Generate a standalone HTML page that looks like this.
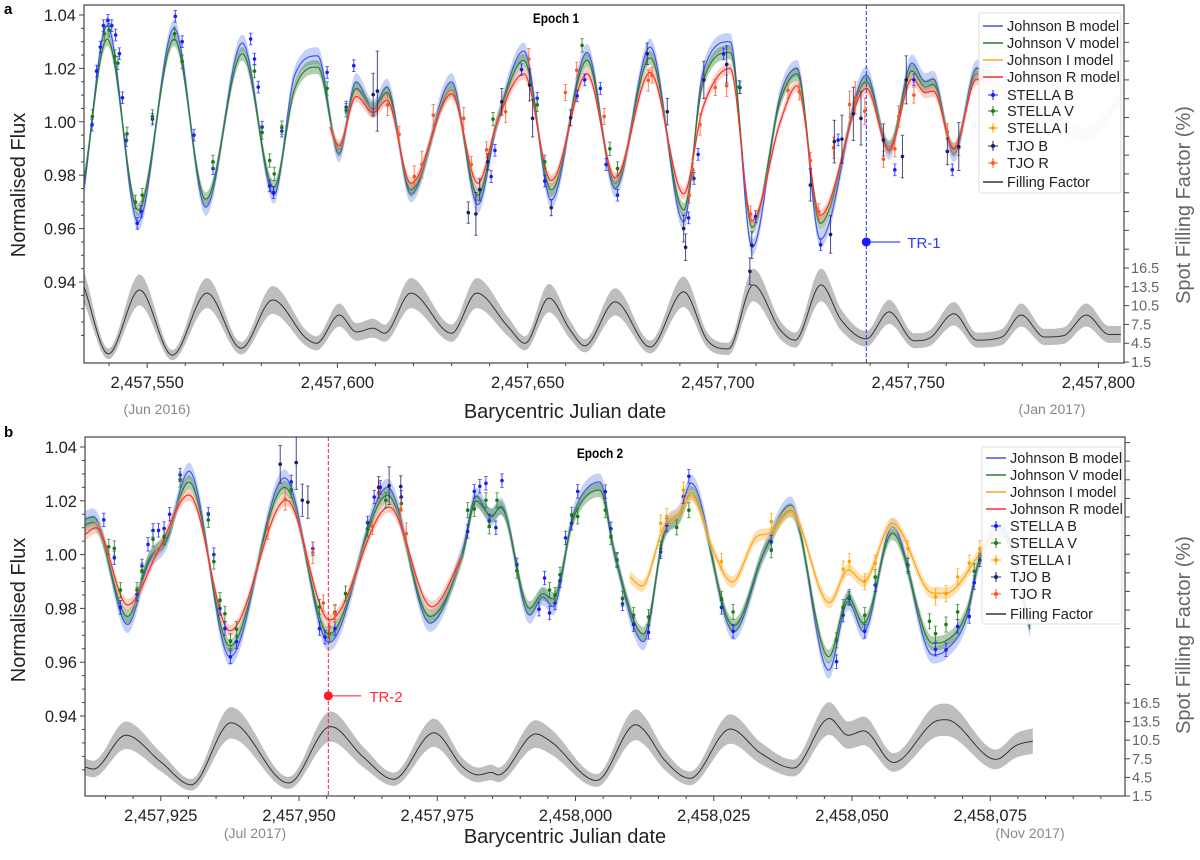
<!DOCTYPE html>
<html><head><meta charset="utf-8"><title>Epoch light curves</title>
<style>
html,body{margin:0;padding:0;background:#fff;}
svg{display:block;font-family:"Liberation Sans",sans-serif;}
</style></head>
<body>
<svg id="fig" width="1200" height="860" viewBox="0 0 1200 860" xmlns="http://www.w3.org/2000/svg">
<defs>
<clipPath id="clipA"><rect x="84" y="5" width="1040" height="358"/></clipPath>
<clipPath id="clipB"><rect x="85" y="437" width="1040" height="359"/></clipPath>
</defs>
<text x="4" y="14" font-size="15" font-weight="bold">a</text>
<text x="4" y="437" font-size="15" font-weight="bold">b</text>
<g id="panelA"></g>
<g id="panelB"></g>
<text x="556" y="23" font-size="14" font-weight="bold" text-anchor="middle" transform="translate(556 23) scale(0.85 1) translate(-556 -23)">Epoch 1</text>
<text x="600" y="458" font-size="14" font-weight="bold" text-anchor="middle" transform="translate(600 458) scale(0.85 1) translate(-600 -458)">Epoch 2</text>
<text transform="translate(25 185) rotate(-90)" font-size="20" text-anchor="middle" fill="#222">Normalised Flux</text>
<text transform="translate(25 610) rotate(-90)" font-size="20" text-anchor="middle" fill="#222">Normalised Flux</text>
<text transform="translate(1190 205) rotate(-90)" font-size="20" text-anchor="middle" fill="#666">Spot  Filling Factor  (%)</text>
<text transform="translate(1190 635) rotate(-90)" font-size="20" text-anchor="middle" fill="#666">Spot  Filling Factor  (%)</text>
<text x="565" y="418" font-size="20" text-anchor="middle" fill="#222">Barycentric  Julian date</text>
<text x="565" y="843" font-size="20" text-anchor="middle" fill="#222">Barycentric  Julian date</text>
<text x="157" y="414" font-size="14" text-anchor="middle" fill="#888">(Jun 2016)</text>
<text x="1052" y="414" font-size="14" text-anchor="middle" fill="#888">(Jan 2017)</text>
<text x="255" y="838" font-size="14" text-anchor="middle" fill="#888">(Jul 2017)</text>
<text x="1030" y="838" font-size="14" text-anchor="middle" fill="#888">(Nov 2017)</text>
</svg>
<script>
// ---------- Epoch 1 models ----------
const modelDaysA = [2457533.4,2457539.5,2457547.6,2457557.1,2457565.4,2457575,2457583.3,2457588.8,2457594.8,2457600.4,2457604.9,2457609.4,2457613,2457619.3,2457630,2457636.9,2457642,2457649,2457656.2,2457665.6,2457673,2457682.2,2457691,2457696,2457703.2,2457709,2457716.4,2457720.8,2457726.9,2457739,2457745,2457751,2457754.5,2457756.6,2457762,2457768,2457775,2457786,2457796.8,2457806];
const modelBA = [0.975,1.036,0.9625,1.035,0.968,1.0295,0.9725,1.0175,1.0247,0.988,1.015,1.005,1.013,0.973,1.015,0.969,1.0,1.0265,0.9707,1.026,0.975,1.028,0.9625,1.018,1.030,0.953,1.01,1.020,0.956,1.0175,0.989,1.022,1.015,1.016,0.988,1.020,1.012,1.002,0.994,1.01];
const modelVA = [0.978,1.031,0.967,1.031,0.971,1.0255,0.9755,1.0125,1.0205,0.9895,1.0125,1.0045,1.011,0.9745,1.012,0.9725,1.0,1.023,0.9745,1.023,0.977,1.024,0.967,1.0145,1.026,0.9605,1.008,1.018,0.962,1.015,0.9905,1.019,1.013,1.014,0.9895,1.018,1.012,1.002,0.995,1.009];
const modelDaysRA = [2457598,2457600.4,2457604.9,2457609.4,2457613,2457619.3,2457630,2457636.9,2457642,2457649,2457656.2,2457665.6,2457673,2457682.2,2457691,2457696,2457703.2,2457709,2457716.4,2457720.8,2457726.9,2457739,2457745,2457751,2457754.5,2457756.6,2457762,2457768,2457775,2457786,2457796.8,2457806];
const modelRA = [0.998,0.991,1.0095,1.0035,1.008,0.977,1.0105,0.977,1.0,1.018,0.978,1.018,0.979,1.0185,0.973,1.005,1.020,0.963,1.0,1.0135,0.965,1.0125,0.9895,1.016,1.011,1.0115,0.990,1.016,1.012,1.003,0.996,1.008];
const ffDaysA = [2457533.4,2457539.8,2457548,2457556.6,2457565.7,2457574.7,2457583,2457591.8,2457594.5,2457600.5,2457605,2457609.4,2457612.4,2457619.3,2457630,2457636.6,2457644.9,2457649.3,2457655.6,2457661.2,2457665,2457673,2457682.2,2457691,2457697.2,2457702.7,2457709.3,2457716.4,2457720.3,2457727.1,2457732.4,2457739,2457745,2457751.6,2457755.6,2457762,2457768.1,2457774.6,2457779.7,2457785.8,2457790.8,2457796.8,2457802.8,2457806];
const ffA = [13.5,2.8,13,2.6,12.5,3.7,11.4,5.3,4.5,9,6.3,6.9,6.1,12.5,6.1,12.5,7.1,4.5,11.7,6.6,4.1,11.1,3.9,12.7,5,3.6,13.8,6.6,5,13.8,8.2,5.2,9.5,4.9,5.3,9.2,5,5.5,9,5.5,5.7,9,5.9,5.9];
// ---------- Epoch 1 observations ----------
const stellaBDaysA = [2457535.5,2457536.7,2457537.7,2457538.5,2457539.7,2457540.7,2457541.7,2457542.7,2457543.5,2457544.5,2457547.4,2457548.4,2457551.4,2457557.4,2457559.2,2457562.3,2457567.3,2457577.2,2457578.2,2457579.2,2457580.2,2457582.2,2457583.2,2457585.4,2457597.3,2457602.3,2457604.3,2457640.4,2457641.4,2457648.4,2457652.5,2457654.5,2457663,2457665,2457669.1,2457670.6,2457673.6,2457701.5,2457705.8,2457692.3,2457709.9,2457727,2457731.6,2457746.5,2457751.5,2457761.6,2457693.7,2457694.8];
const stellaBFluxA = [0.9988,1.019,1.028,1.036,1.038,1.036,1.0325,1.0255,1.009,0.993,0.962,0.9665,1.001,1.0395,1.03,0.995,0.9825,1.031,1.0235,1.013,0.998,0.976,0.9735,0.9965,1.0185,1.0055,1.021,0.9795,0.9893,1.0195,1.0088,0.9778,1.0097,1.0157,1.0125,0.984,0.9725,1.0254,1.0128,0.964,0.9645,0.954,0.9932,0.982,1.0157,0.982,0.9788,0.9878];
const stellaVDaysA = [2457535.6,2457538.7,2457540,2457541.5,2457542.3,2457544.7,2457546.9,2457548.7,2457551.4,2457557.2,2457559.2,2457567.3,2457578.2,2457580.2,2457582.2,2457583.4,2457585.4,2457597.3,2457602.3,2457640.9,2457652.5,2457654.5,2457664.3,2457671.6,2457673.6,2457693.4,2457705.6];
const stellaVFluxA = [1.002,1.033,1.0343,1.0245,1.022,0.9955,0.970,0.9725,1.002,1.033,1.0225,0.985,1.019,0.996,0.9855,0.9805,0.9978,1.0125,1.0043,1.001,1.0063,0.985,1.0286,0.9899,0.9825,0.982,1.013];
const tjoBDaysA = [2457609.4,2457610.5,2457634.4,2457636.4,2457637.4,2457639.5,2457643.2,2457650.5,2457651.3,2457656.2,2457661.3,2457681.4,2457696.3,2457691,2457691.5,2457708.4,2457708.9,2457724.3,2457729.6,2457730.6,2457737.6,2457749.5,2457743.5,2457748.5,2457760.3,2457763.3,2457686.7,2457702.3,2457732.6,2457735.6];
const tjoBFluxA = [1.0102,1.0115,0.966,0.9655,0.9746,0.985,1.0075,1.0138,1.0013,0.9678,1.0015,1.0255,1.0157,0.960,0.953,0.944,0.9538,0.9763,0.9578,0.9926,1.0013,1.0157,0.9932,0.987,0.9889,0.9907,1.0038,1.0215,0.9935,1.003];
const tjoBErrA = [0.008,0.015,0.004,0.008,0.004,0.003,0.005,0.006,0.007,0.003,0.003,0.004,0.007,0.005,0.005,0.005,0.005,0.006,0.007,0.008,0.01,0.009,0.006,0.008,0.005,0.009,0.005,0.007,0.009,0.01];
const tjoRDaysA = [2457613.2,2457616.2,2457620.2,2457622.2,2457625.2,2457633.2,2457635.2,2457639.2,2457644.2,2457650.3,2457659.9,2457662.9,2457670.1,2457681.7,2457682.7,2457693.3,2457692.5,2457695.3,2457699.3,2457702.3,2457708.6,2457718.4,2457721.4,2457724.3,2457726.5,2457730.4,2457734.6,2457736.1,2457738.6,2457743.5,2457746.5,2457747.5,2457751.5,2457760.3,2457763.3];
const tjoRFluxA = [1.0063,0.9953,0.9795,0.984,1.0025,1.0013,0.984,0.9895,1.0038,1.0235,1.011,1.0193,1.002,1.0155,1.0175,0.982,0.9725,0.999,1.0128,1.0135,0.9655,1.0118,1.0112,0.9855,0.9663,0.9903,1.0065,1.009,1.004,0.986,0.9899,1.002,1.010,0.9963,0.9903];
const tjoRErrA = [0.004,0.003,0.004,0.005,0.004,0.004,0.003,0.003,0.004,0.004,0.003,0.003,0.003,0.004,0.003,0.004,0.003,0.004,0.003,0.004,0.003,0.003,0.003,0.003,0.003,0.004,0.005,0.006,0.005,0.003,0.003,0.004,0.003,0.003,0.003];
// ---------- Epoch 2 models ----------
const modelDaysB = [2457911.2,2457912.8,2457919,2457922.8,2457926,2457930.1,2457937.5,2457947.4,2457955.4,2457966,2457973.7,2457979.6,2457982,2457984.8,2457986.5,2457991.7,2457994.1,2457995.9,2457999.7,2458004.4,2458007.1,2458012.3,2458016.1,2458018.8,2458020.9,2458028.6,2458034.1,2458038.9,2458045.8,2458049.3,2458052.1,2458057.3,2458064.6,2458067,2458070.8,2458073,2458077,2458082.4];
const modelBB = [1.013,1.014,0.974,0.997,1.005,1.031,0.962,1.0285,0.9673,1.025,0.9745,1.0017,1.0217,1.014,1.018,0.9775,0.9843,0.9806,1.0154,1.027,1.0,0.9676,1.009,1.0154,1.0266,0.9713,1.001,1.0184,0.957,0.9825,0.9713,1.0104,0.9627,0.9645,0.9769,0.998,1.01,0.9708];
const modelVB = [1.011,1.012,0.977,0.998,1.006,1.027,0.966,1.025,0.9705,1.022,0.977,1.0,1.02,1.0145,1.0175,0.98,0.9855,0.9835,1.014,1.024,1.0,0.9705,1.008,1.014,1.023,0.9735,1.001,1.0165,0.962,0.984,0.9745,1.008,0.967,0.968,0.979,0.998,1.009,0.972];
const modelDaysRB = [2457911.2,2457913.3,2457919,2457924.6,2457930.1,2457937.5,2457947.7,2457955.5,2457966.3,2457974,2457979.6];
const modelRB = [1.0073,1.01,0.9813,1.0017,1.0222,0.9717,1.0203,0.9757,1.0177,0.9806,0.9995];
const modelDaysIB = [2458009.8,2458012,2458016,2458018.8,2458020.9,2458025,2458028.3,2458032.8,2458035.2,2458038.9,2458045.9,2458049.3,2458052.1,2458057.3,2458064.6,2458067,2458073,2458077];
const modelIB = [0.9918,0.9883,1.0104,1.0154,1.022,1.001,0.9898,1.0067,1.008,1.016,0.9821,0.9943,0.99,1.0117,0.9857,0.9857,1.0,1.012];
const ffDaysB = [2457911.2,2457912.8,2457918.7,2457925,2457930.5,2457937.7,2457948.1,2457955.7,2457961.6,2457967.1,2457974.4,2457979.6,2457982.4,2457984.8,2457986,2457992.8,2457995.5,2458003.8,2458010.9,2458012.6,2458016.1,2458020.7,2458028,2458033.5,2458039.4,2458045.9,2458049.3,2458052.1,2458057.5,2458065,2458067,2458076,2458079.8,2458082.9];
const ffB = [6.2,5.85,11.3,7.0,3.3,13.3,3.6,12.7,7.8,4.2,11.7,6.2,4.9,5.3,4.9,11.5,10.3,4.0,13,11.9,7.3,4.35,12.3,8.4,6,14,11.3,12,6.9,13.5,13.8,7.4,9.7,10.4];
// ---------- Epoch 2 observations ----------
const stellaBDaysB = [2457914.7,2457916.6,2457917.7,2457920.7,2457921.6,2457922.7,2457923.6,2457924.6,2457925.6,2457926.6,2457928.5,2457933.6,2457934.6,2457935.7,2457936.6,2457937.6,2457938.7,2457948.6,2457952.5,2457953.7,2457954.7,2457956.5,2457962.4,2457963.6,2457964.7,2457968.5,2457980.5,2457981.7,2457982.7,2457983.8,2457984.4,2457985.6,2457986.7,2457989.4,2457993.4,2457994.4,2457995.3,2457996.3,2457997.2,2457998.2,2457999.3,2458000.4,2458005.4,2458006.4,2458007.5,2458008.5,2458010.5,2458013.2,2458015.4,2458016.5,2458019.5,2458020.5,2458026.4,2458028.5,2458035.4,2458047.2,2458048.4,2458049.5,2458052.3,2458054.2,2458060.1,2458065.1,2458067,2458069.1,2458071.2,2458072.1,2458073.1];
const stellaBFluxB = [1.0129,0.9988,0.9804,0.9852,0.9958,1.0038,1.009,1.009,1.0097,1.015,1.0296,1.015,1.0,0.980,0.9725,0.962,0.9676,1.027,1.0022,0.9725,0.9693,0.9725,1.0118,1.0214,1.025,1.0214,1.0086,1.0235,1.0254,1.0265,1.0125,1.01,1.0275,0.9962,0.9797,0.9913,0.9783,0.982,0.9903,1.0062,1.0117,1.0235,1.0234,1.0096,0.998,0.9817,0.974,0.9711,1.001,1.011,1.0216,1.0291,0.9804,0.9715,1.0047,0.9602,0.9775,0.9837,0.9715,0.9887,0.9962,0.9648,0.9646,0.9733,0.977,0.9896,0.998];
const stellaVDaysB = [2457915.6,2457916.6,2457917.7,2457920.7,2457921.6,2457923.6,2457925.6,2457928.5,2457933.6,2457934.6,2457935.7,2457936.6,2457937.6,2457938.7,2457948.6,2457953.7,2457955.5,2457956.5,2457958.4,2457962.4,2457965.7,2457968.5,2457980.5,2457981.7,2457983.8,2457984.4,2457985.8,2457989.4,2457995.3,2457996.3,2457997.2,2457999.3,2458000.4,2458005.4,2458006.4,2458007.5,2458008.5,2458010.5,2458013.2,2458015.4,2458018.3,2458020.5,2458026.4,2458028.5,2458035.4,2458047.2,2458048.4,2458049.5,2458052.3,2458054.2,2458060.1,2458064,2458065.1,2458067,2458069.1,2458072.1,2458073.1];
const stellaVFluxB = [1.0029,1.0023,0.9868,0.9868,0.994,1.0057,1.0065,1.0279,1.0129,0.9974,0.9831,0.978,0.9678,0.9723,1.024,0.9805,0.9706,0.9786,0.9855,1.0096,1.0202,1.019,1.0165,1.017,1.0202,1.0105,1.0202,0.994,0.9868,0.985,0.9925,1.0148,1.0142,1.0165,1.0065,0.998,0.9836,0.9775,0.9768,1.0022,1.0101,1.0165,0.9836,0.9787,1.0016,0.9681,0.9805,0.9843,0.9775,0.9917,0.9958,0.9752,0.9706,0.974,0.9787,0.9938,0.9994];
const stellaIDaysB = [2458015.4,2458016.5,2458019.5,2458026.4,2458035.4,2458048.4,2458049.5,2458052.3,2458054.2,2458060.1,2458065.1,2458067,2458069.1,2458071.2,2458073.1];
const stellaIFluxB = [1.0117,1.0142,1.024,0.9974,1.0123,0.9946,0.9974,0.99,0.9968,1.0022,0.9843,0.9855,0.9917,0.9968,1.0022];
const tjoBDaysB = [2457946.6,2457949.5,2457950.6,2457951.6,2457964.4,2457966.3,2457968.4];
const tjoBFluxB = [1.0336,1.0342,1.0202,1.0195,1.025,1.0256,1.0253];
const tjoBErrB = [0.007,0.01,0.006,0.006,0.004,0.007,0.004];
const tjoRDaysB = [2457944.4,2457947.5,2457952.5,2457954.4,2457955.5,2457956.5,2457963.3,2457964.4,2457968.4,2457969.4];
const tjoRFluxB = [1.0097,1.0205,1.0007,0.982,0.973,0.978,1.0105,1.023,1.0168,1.0078];
const tjoRErrB = [0.004,0.004,0.004,0.003,0.003,0.003,0.003,0.004,0.004,0.004];
// ---------- tick labels ----------
const xTicksA = [2457550,2457600,2457650,2457700,2457750,2457800];
const xTicksB = [2457925,2457950,2457975,2458000,2458025,2458050,2458075];
const fluxTicks = [1.04,1.02,1.00,0.98,0.96,0.94];
const ffTicks = [16.5,13.5,10.5,7.5,4.5,1.5];
const transitA = [2457739, 0.955];
const transitB = [2457955.3, 0.9475];

// ---------- axis functions ----------
const xa = d => 84 + (d - 2457533.4) * 3.805;
const ya = v => 15 + (1.04 - v) * 2670;
const fa = f => 268 + (16.5 - f) * 6.27;
const xb = d => 85 + (d - 2457911.3) * 5.53;
const yb = v => 447 + (1.04 - v) * 2690;
const fb = f => 703 + (16.5 - f) * 6.2;

const NS = 'http://www.w3.org/2000/svg';
function mk(tag, attrs, parent) {
  const e = document.createElementNS(NS, tag);
  for (const k in attrs) e.setAttribute(k, attrs[k]);
  parent.appendChild(e);
  return e;
}
function mono(xs, ys) {
  const n = xs.length, d = [], m = new Array(n);
  for (let i = 0; i < n - 1; i++) d.push((ys[i+1]-ys[i])/(xs[i+1]-xs[i]));
  m[0] = d[0]; m[n-1] = d[n-2];
  for (let i = 1; i < n - 1; i++) m[i] = (d[i-1]*d[i] <= 0) ? 0 : (d[i-1]+d[i])/2;
  for (let i = 0; i < n - 1; i++) {
    if (d[i] === 0) { m[i] = 0; m[i+1] = 0; continue; }
    const a = m[i]/d[i], b = m[i+1]/d[i], s = a*a + b*b;
    if (s > 9) { const t = 3/Math.sqrt(s); m[i] = t*a*d[i]; m[i+1] = t*b*d[i]; }
  }
  return x => {
    let i = 0;
    while (i < n - 2 && x > xs[i+1]) i++;
    const h = xs[i+1]-xs[i], t = Math.max(0, Math.min(1, (x-xs[i])/h));
    const t2 = t*t, t3 = t2*t;
    return (2*t3-3*t2+1)*ys[i] + (t3-2*t2+t)*h*m[i] + (-2*t3+3*t2)*ys[i+1] + (t3-t2)*h*m[i+1];
  };
}
function sample(xs, ys) {
  const f = mono(xs, ys), out = [];
  for (let x = xs[0]; x <= xs[xs.length-1] + 1e-9; x += 0.25) out.push([x, f(x)]);
  return out;
}
function drawModel(g, xs, ys, X, Y, hw, bandColor, bandOp, lineColor, name) {
  const s = sample(xs, ys);
  const up = s.map(p => X(p[0]).toFixed(1) + ',' + Y(p[1] + hw).toFixed(1));
  const lo = s.slice().reverse().map(p => X(p[0]).toFixed(1) + ',' + Y(p[1] - hw).toFixed(1));
  const band = mk('polygon', {points: up.concat(lo).join(' '), fill: bandColor, 'fill-opacity': bandOp}, g);
  
  
  const line = mk('polyline', {points: s.map(p => X(p[0]).toFixed(1) + ',' + Y(p[1]).toFixed(1)).join(' '), fill: 'none', stroke: lineColor, 'stroke-width': 1.2}, g);
  
  
}
function drawFF(g, xs, ys, X, F, name) {
  const s = sample(xs, ys);
  const hw = s.map(p => 0.4 + 0.16 * p[1]);
  const up = s.map((p, i) => X(p[0]).toFixed(1) + ',' + F(p[1] + hw[i]).toFixed(1));
  const lo = s.map((p, i) => X(p[0]).toFixed(1) + ',' + F(p[1] - hw[i]).toFixed(1)).reverse();
  const band = mk('polygon', {points: up.concat(lo).join(' '), fill: '#b3b3b3', 'fill-opacity': 0.85}, g);
  
  
  const line = mk('polyline', {points: s.map(p => X(p[0]).toFixed(1) + ',' + F(p[1]).toFixed(1)).join(' '), fill: 'none', stroke: '#333', 'stroke-width': 1}, g);
  
  
}
function drawPoints(g, days, flux, errs, X, Y, color, name) {
  for (let i = 0; i < days.length; i++) {
    const e = Array.isArray(errs) ? errs[i] : errs;
    const x = X(days[i]), y = Y(flux[i]), y1 = Y(flux[i] + e), y2 = Y(flux[i] - e);
    const pg = mk('g', {}, g);
    
    
    mk('line', {x1: x, y1: y1, x2: x, y2: y2, stroke: color, 'stroke-width': 1, 'stroke-opacity': 0.8}, pg);
    mk('line', {x1: x-1.8, y1: y1, x2: x+1.8, y2: y1, stroke: color, 'stroke-width': 0.8, 'stroke-opacity': 0.8}, pg);
    mk('line', {x1: x-1.8, y1: y2, x2: x+1.8, y2: y2, stroke: color, 'stroke-width': 0.8, 'stroke-opacity': 0.8}, pg);
    mk('circle', {cx: x, cy: y, r: 1.8, fill: color}, pg);
  }
}
function fmt(n) { return String(n).replace(/\B(?=(\d{3})+(?!\d))/g, ','); }

function drawAxes(g, L, T, R, B, X, Y, F, xt, minorStep, xMin, xMax, label) {
  const frame = mk('rect', {x: L, y: T, width: R-L, height: B-T, fill: 'none', stroke: '#444', 'stroke-width': 1.2}, g);
  
  
  for (let d = Math.ceil(xMin / minorStep) * minorStep; d <= xMax; d += minorStep) {
    const x = X(d);
    if (x < L || x > R) continue;
    const major = xt.indexOf(d) >= 0;
    const t = mk('line', {x1: x, y1: B, x2: x, y2: B + (major ? 5 : 3), stroke: '#444', 'stroke-width': 1}, g);
    
    
  }
  xt.forEach(d => {
    const t = mk('text', {x: X(d), y: B + 25, 'font-size': 16.5, 'text-anchor': 'middle', fill: '#222'}, g);
    t.textContent = fmt(d);
    
    
  });
  for (let v = 0.92; v <= 1.0401; v += 0.005) {
    const y = Y(v);
    if (y < T || y > B) continue;
    const major = Math.abs(Math.round(v * 50) - v * 50) < 1e-6 && v > 0.935;
    const t = mk('line', {x1: L - (major ? 5 : 3), y1: y, x2: L, y2: y, stroke: '#444', 'stroke-width': 1}, g);
    
    
  }
  fluxTicks.forEach(v => {
    const t = mk('text', {x: L - 8, y: Y(v) + 6, 'font-size': 16.5, 'text-anchor': 'end', fill: '#222'}, g);
    t.textContent = v.toFixed(2);
    
    
  });
  for (let f = 1.5; F(f) >= T; f += 3) {
    const t = mk('line', {x1: R, y1: F(f), x2: R + 5, y2: F(f), stroke: '#444', 'stroke-width': 1}, g);
    
    
  }
  ffTicks.forEach(f => {
    const t = mk('text', {x: R + 7, y: F(f) + 5, 'font-size': 14.5, fill: '#666'}, g);
    t.textContent = f.toFixed(1);
    
    
  });
}
function drawLegend(g, x0, y0, w, h, rowY) {
  const box = mk('rect', {x: x0, y: y0, width: w, height: h, fill: '#fff', 'fill-opacity': 0.9, stroke: '#ddd', rx: 2}, g);
  
  
  const items = [
    ['Johnson B model', '#4455ee', 'line'], ['Johnson V model', '#2e7d32', 'line'],
    ['Johnson I  model', '#ffa31a', 'line'], ['Johnson R model', '#ff2a2a', 'line'],
    ['STELLA B', '#1a1aff', 'pt'], ['STELLA V', '#1a7a1a', 'pt'], ['STELLA I', '#ffa500', 'pt'],
    ['TJO B', '#1c1c6b', 'pt'], ['TJO R', '#ff5522', 'pt'], ['Filling Factor', '#333', 'line']
  ];
  items.forEach((it, i) => {
    const y = rowY[i];
    const eg = mk('g', {}, g);
    
    
    if (it[2] === 'line') {
      mk('line', {x1: x0 + 4, y1: y, x2: x0 + 24, y2: y, stroke: it[1], 'stroke-width': 1.4}, eg);
    } else {
      mk('line', {x1: x0 + 9, y1: y, x2: x0 + 19, y2: y, stroke: it[1], 'stroke-width': 1}, eg);
      mk('line', {x1: x0 + 14, y1: y - 5, x2: x0 + 14, y2: y + 5, stroke: it[1], 'stroke-width': 1}, eg);
      mk('circle', {cx: x0 + 14, cy: y, r: 2, fill: it[1]}, eg);
    }
    const t = mk('text', {x: x0 + 28, y: y + 5, 'font-size': 14.5, fill: '#222'}, eg);
    t.textContent = it[0];
  });
}

// ---------- Panel A ----------
const gA = document.getElementById('panelA');
const cA = mk('g', {'clip-path': 'url(#clipA)'}, gA);


drawFF(cA, ffDaysA, ffA, xa, fa, 'filling-factor-a');
drawModel(cA, modelDaysA, modelBA, xa, ya, 0.0032, '#7f9bea', 0.45, '#4455ee', 'johnson-b-model-a');
drawModel(cA, modelDaysA, modelVA, xa, ya, 0.0026, '#3f7f3f', 0.4, '#2e7d32', 'johnson-v-model-a');
drawModel(cA, modelDaysRA, modelRA, xa, ya, 0.0022, '#f39a80', 0.45, '#ff2a2a', 'johnson-r-model-a');
drawPoints(cA, stellaBDaysA, stellaBFluxA, 0.0022, xa, ya, '#1a1aff', 'stella-b-a');
drawPoints(cA, stellaVDaysA, stellaVFluxA, 0.0025, xa, ya, '#1a7a1a', 'stella-v-a');
drawPoints(cA, tjoRDaysA, tjoRFluxA, tjoRErrA, xa, ya, '#ff5522', 'tjo-r-a');
drawPoints(cA, tjoBDaysA, tjoBFluxA, tjoBErrA, xa, ya, '#1c1c6b', 'tjo-b-a');
const fadeA = mk('rect', {x: xa(2457770), y: 6, width: 1124 - xa(2457770), height: 256, fill: '#fff', 'fill-opacity': 0.6}, cA);


const trA = mk('line', {x1: xa(transitA[0]), y1: 5, x2: xa(transitA[0]), y2: 363, stroke: '#2233ee', 'stroke-width': 1, 'stroke-dasharray': '4,2'}, gA);


const trAd = mk('circle', {cx: xa(transitA[0]), cy: ya(transitA[1]), r: 4.5, fill: '#1a1aff'}, gA);


const trAl = mk('line', {x1: xa(transitA[0]), y1: ya(transitA[1]), x2: xa(transitA[0]) + 34, y2: ya(transitA[1]), stroke: '#1a1aff', 'stroke-width': 1}, gA);


const trAt = mk('text', {x: xa(transitA[0]) + 41, y: ya(transitA[1]) + 6, 'font-size': 15, fill: '#2a3aff'}, gA);
trAt.textContent = 'TR-1';


drawAxes(gA, 84, 5, 1124, 363, xa, ya, fa, xTicksA, 10, 2457533, 2457806, 'panel-a');
drawLegend(gA, 979, 13, 142, 180, [26,43,60,77,95,111,128,146,163,182]);

// ---------- Panel B ----------
const gB = document.getElementById('panelB');
const cB = mk('g', {'clip-path': 'url(#clipB)'}, gB);


drawFF(cB, ffDaysB, ffB, xb, fb, 'filling-factor-b');
drawModel(cB, modelDaysB, modelBB, xb, yb, 0.0032, '#7f9bea', 0.45, '#4455ee', 'johnson-b-model-b');
drawModel(cB, modelDaysB, modelVB, xb, yb, 0.0026, '#3f7f3f', 0.4, '#2e7d32', 'johnson-v-model-b');
drawModel(cB, modelDaysRB, modelRB, xb, yb, 0.0022, '#f39a80', 0.45, '#ff2a2a', 'johnson-r-model-b');
drawModel(cB, modelDaysIB, modelIB, xb, yb, 0.0022, '#ffc870', 0.55, '#ffa31a', 'johnson-i-model-b');
drawPoints(cB, stellaBDaysB, stellaBFluxB, 0.0025, xb, yb, '#1a1aff', 'stella-b-b');
drawPoints(cB, stellaVDaysB, stellaVFluxB, 0.0028, xb, yb, '#1a7a1a', 'stella-v-b');
drawPoints(cB, stellaIDaysB, stellaIFluxB, 0.003, xb, yb, '#ffa500', 'stella-i-b');
drawPoints(cB, tjoRDaysB, tjoRFluxB, tjoRErrB, xb, yb, '#ff5522', 'tjo-r-b');
drawPoints(cB, tjoBDaysB, tjoBFluxB, tjoBErrB, xb, yb, '#1c1c6b', 'tjo-b-b');
const trB = mk('line', {x1: xb(transitB[0]), y1: 437, x2: xb(transitB[0]), y2: 796, stroke: '#ee2233', 'stroke-width': 1, 'stroke-dasharray': '4,2'}, gB);


const trBd = mk('circle', {cx: xb(transitB[0]), cy: yb(transitB[1]), r: 4.5, fill: '#ff1a2a'}, gB);


const trBl = mk('line', {x1: xb(transitB[0]), y1: yb(transitB[1]), x2: xb(transitB[0]) + 33, y2: yb(transitB[1]), stroke: '#ff1a2a', 'stroke-width': 1}, gB);


const trBt = mk('text', {x: xb(transitB[0]) + 41, y: yb(transitB[1]) + 6, 'font-size': 15, fill: '#ff2a3a'}, gB);
trBt.textContent = 'TR-2';


drawAxes(gB, 85, 437, 1125, 796, xb, yb, fb, xTicksB, 5, 2457911, 2458100, 'panel-b');
drawLegend(gB, 982, 447, 140, 177, [458,475,492,509,526,543,560,577,594,614]);
</script>
</body></html>
